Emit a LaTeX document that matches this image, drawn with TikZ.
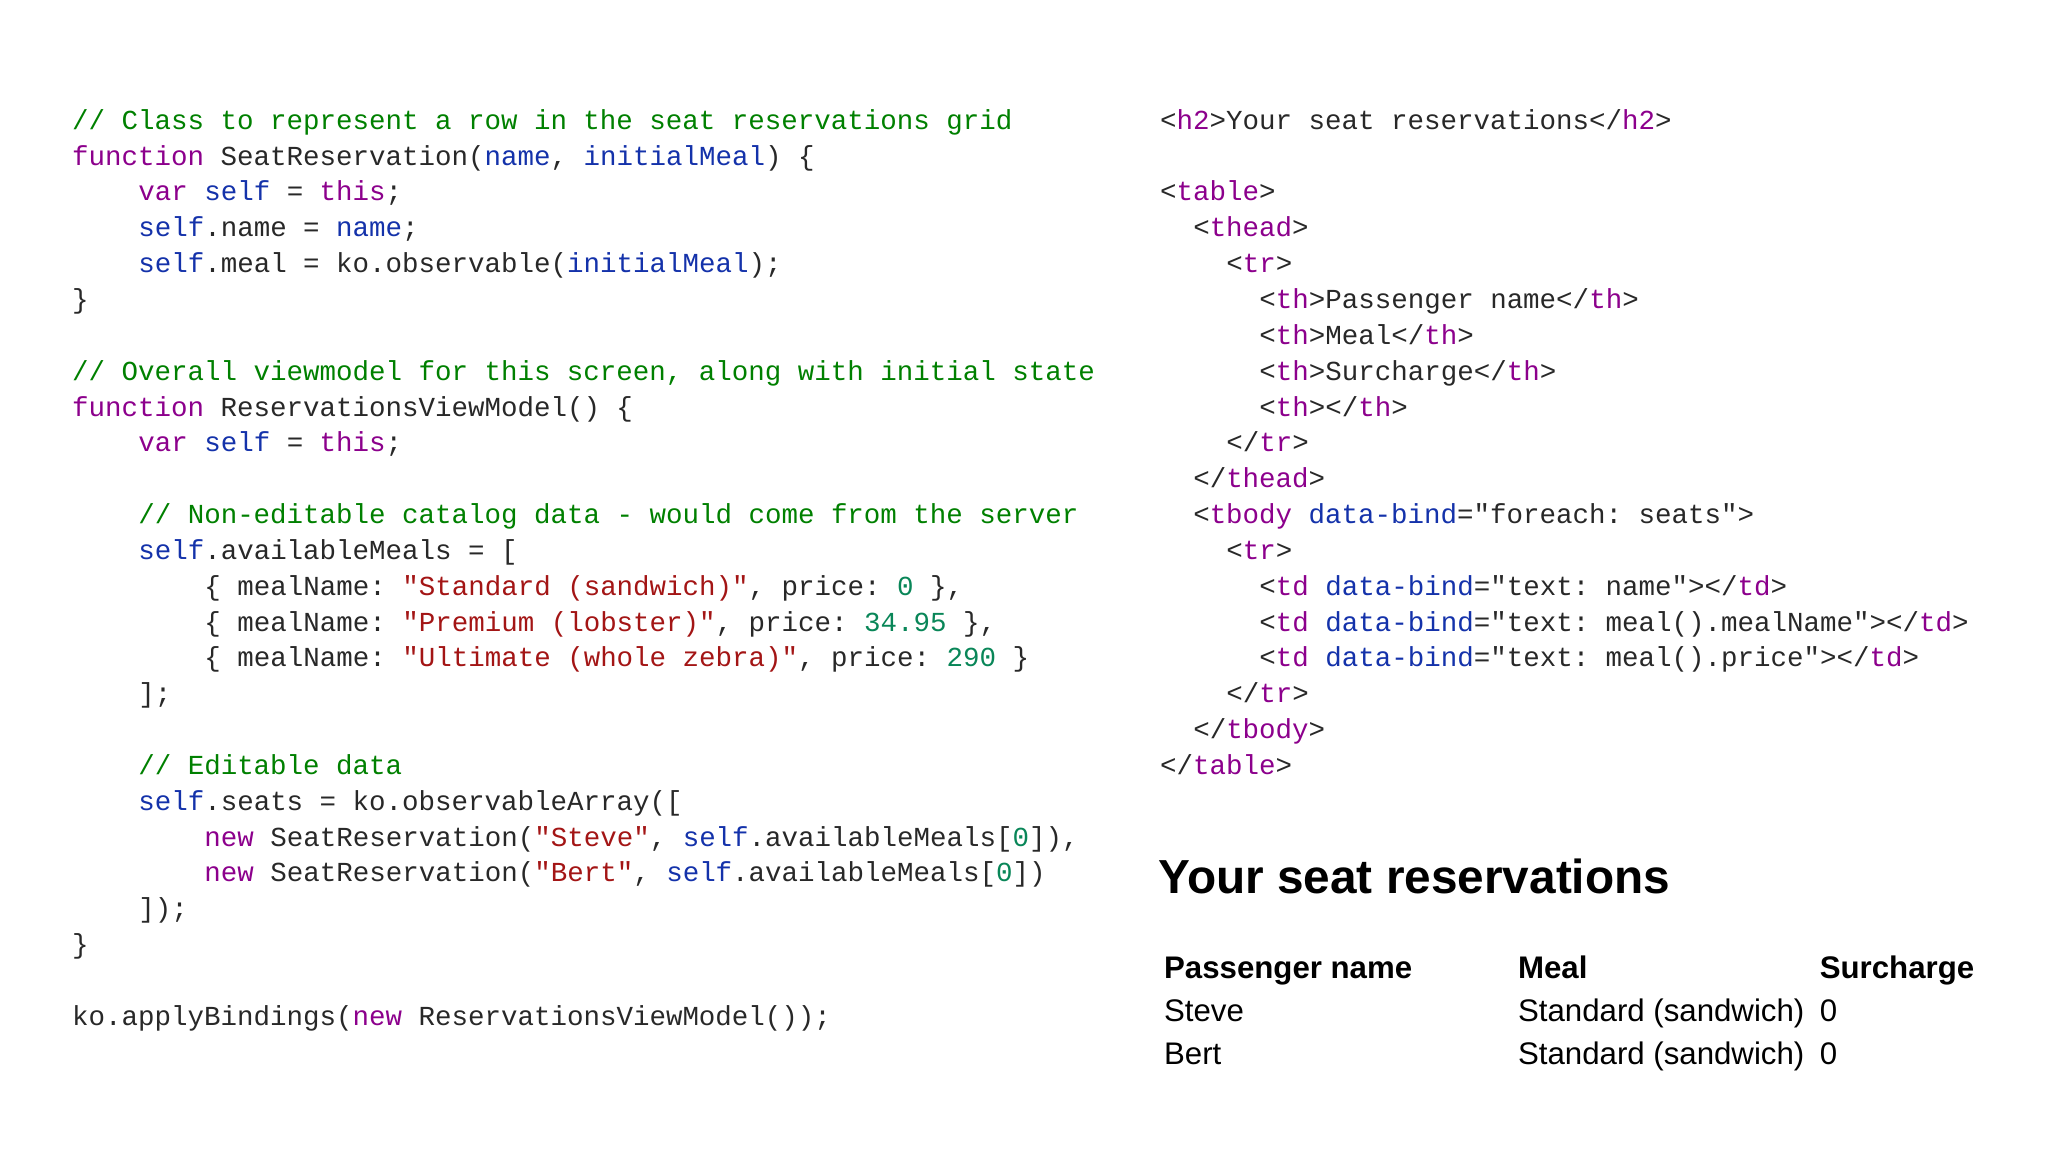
\documentclass[tikz,border=0pt]{standalone}
\usepackage{fontspec}
\setmainfont{Liberation Sans}
\setsansfont{Liberation Sans}
\setmonofont{Liberation Mono}
\definecolor{txt}{RGB}{40,40,40}
\definecolor{cmt}{RGB}{0,128,0}
\definecolor{kwc}{RGB}{140,0,140}
\definecolor{idc}{RGB}{20,50,170}
\definecolor{strc}{RGB}{163,21,21}
\definecolor{numc}{RGB}{9,134,88}
\newcommand\Cm[1]{\textcolor{cmt}{#1}}
\newcommand\Kw[1]{\textcolor{kwc}{#1}}
\newcommand\Id[1]{\textcolor{idc}{#1}}
\newcommand\St[1]{\textcolor{strc}{#1}}
\newcommand\Nm[1]{\textcolor{numc}{#1}}
\begin{document}
\begin{tikzpicture}[x=0.25mm,y=-0.25mm,
  code/.style={anchor=base west,inner sep=0pt,text=txt,font=\fontsize{14.97}{18}\ttfamily},
  tbl/.style={anchor=base west,inner sep=0pt,text=black,font=\fontsize{17}{20}\sffamily}]
\useasboundingbox (0,0) rectangle (1568,882);
\def\L{27.44}
\def\ind{50.6}
% left code
\node[code] (a1) at (55,99+0*\L) {\Cm{// Class to represent a row in the seat reservations grid}};
\node[code] (a2) at (55,99+1*\L) {\Kw{function} SeatReservation(\Id{name}, \Id{initialMeal}) \{};
\node[code] (a3) at (55+\ind,99+2*\L) {\Kw{var} \Id{self} = \Kw{this};};
\node[code] (a4) at (55+\ind,99+3*\L) {\Id{self}.name = \Id{name};};
\node[code] (a5) at (55+\ind,99+4*\L) {\Id{self}.meal = ko.observable(\Id{initialMeal});};
\node[code] (a6) at (55,99+5*\L) {\}};
\node[code] (a8) at (55,99+7*\L) {\Cm{// Overall viewmodel for this screen, along with initial state}};
\node[code] (a9) at (55,99+8*\L) {\Kw{function} ReservationsViewModel() \{};
\node[code] (a10) at (55+\ind,99+9*\L) {\Kw{var} \Id{self} = \Kw{this};};
\node[code] (a12) at (55+\ind,99+11*\L) {\Cm{// Non-editable catalog data - would come from the server}};
\node[code] (a13) at (55+\ind,99+12*\L) {\Id{self}.availableMeals = [};
\node[code] (a14) at (55+2*\ind,99+13*\L) {\{ mealName: \St{"Standard (sandwich)"}, price: \Nm{0} \},};
\node[code] (a15) at (55+2*\ind,99+14*\L) {\{ mealName: \St{"Premium (lobster)"}, price: \Nm{34.95} \},};
\node[code] (a16) at (55+2*\ind,99+15*\L) {\{ mealName: \St{"Ultimate (whole zebra)"}, price: \Nm{290} \}};
\node[code] (a17) at (55+\ind,99+16*\L) {];};
\node[code] (a19) at (55+\ind,99+18*\L) {\Cm{// Editable data}};
\node[code] (a20) at (55+\ind,99+19*\L) {\Id{self}.seats = ko.observableArray([};
\node[code] (a21) at (55+2*\ind,99+20*\L) {\Kw{new} SeatReservation(\St{"Steve"}, \Id{self}.availableMeals[\Nm{0}]),};
\node[code] (a22) at (55+2*\ind,99+21*\L) {\Kw{new} SeatReservation(\St{"Bert"}, \Id{self}.availableMeals[\Nm{0}])};
\node[code] (a23) at (55+\ind,99+22*\L) {]);};
\node[code] (a24) at (55,99+23*\L) {\}};
\node[code] (a26) at (55,99+25*\L) {ko.applyBindings(\Kw{new} ReservationsViewModel());};
% right code
\def\r{888}\def\h{25.3}
\node[code] (b1) at (\r,99+0*\L) {<\Kw{h2}>Your seat reservations</\Kw{h2}>};
\node[code] (b3) at (\r,99+2*\L) {<\Kw{table}>};
\node[code] (b4) at (\r+\h,99+3*\L) {<\Kw{thead}>};
\node[code] (b5) at (\r+2*\h,99+4*\L) {<\Kw{tr}>};
\node[code] (b6) at (\r+3*\h,99+5*\L) {<\Kw{th}>Passenger name</\Kw{th}>};
\node[code] (b7) at (\r+3*\h,99+6*\L) {<\Kw{th}>Meal</\Kw{th}>};
\node[code] (b8) at (\r+3*\h,99+7*\L) {<\Kw{th}>Surcharge</\Kw{th}>};
\node[code] (b9) at (\r+3*\h,99+8*\L) {<\Kw{th}></\Kw{th}>};
\node[code] (b10) at (\r+2*\h,99+9*\L) {</\Kw{tr}>};
\node[code] (b11) at (\r+\h,99+10*\L) {</\Kw{thead}>};
\node[code] (b12) at (\r+\h,99+11*\L) {<\Kw{tbody} \Id{data-bind}="foreach: seats">};
\node[code] (b13) at (\r+2*\h,99+12*\L) {<\Kw{tr}>};
\node[code] (b14) at (\r+3*\h,99+13*\L) {<\Kw{td} \Id{data-bind}="text: name"></\Kw{td}>};
\node[code] (b15) at (\r+3*\h,99+14*\L) {<\Kw{td} \Id{data-bind}="text: meal().mealName"></\Kw{td}>};
\node[code] (b16) at (\r+3*\h,99+15*\L) {<\Kw{td} \Id{data-bind}="text: meal().price"></\Kw{td}>};
\node[code] (b17) at (\r+2*\h,99+16*\L) {</\Kw{tr}>};
\node[code] (b18) at (\r+\h,99+17*\L) {</\Kw{tbody}>};
\node[code] (b19) at (\r,99+18*\L) {</\Kw{table}>};
% rendered output
\node[anchor=base west,inner sep=0pt,font=\fontsize{26}{30}\sffamily\bfseries] (title) at (887,684) {Your seat reservations};
\node[tbl,font=\fontsize{17}{20}\sffamily\bfseries] (h1) at (891,749) {Passenger name};
\node[tbl,font=\fontsize{17}{20}\sffamily\bfseries] (h2) at (1162,749) {Meal};
\node[tbl,font=\fontsize{17}{20}\sffamily\bfseries] (h3) at (1393,749) {Surcharge};
\node[tbl] (s1) at (891,782) {Steve};
\node[tbl] (s2) at (1162,782) {Standard (sandwich)};
\node[tbl] (s3) at (1393,782) {0};
\node[tbl] (t1) at (891,815) {Bert};
\node[tbl] (t2) at (1162,815) {Standard (sandwich)};
\node[tbl] (t3) at (1393,815) {0};
\end{tikzpicture}
\end{document}
